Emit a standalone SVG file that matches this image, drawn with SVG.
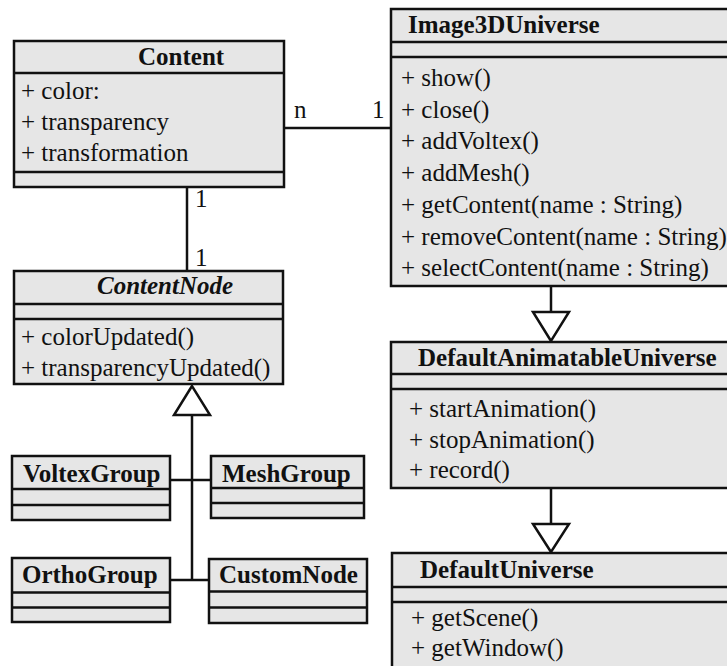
<svg xmlns="http://www.w3.org/2000/svg" width="727" height="666" viewBox="0 0 727 666">
  <style>
    .box { fill: #e6e6e6; stroke: #111; stroke-width: 2.5; }
    .div { stroke: #111; stroke-width: 2.5; }
    .edge { stroke: #111; stroke-width: 2.5; fill: none; }
    .head { fill: #fff; stroke: #111; stroke-width: 2.5; }
    text { font-family: "Liberation Serif", "Times New Roman", serif; font-size: 25px; fill: #111; }
    .title { font-weight: bold; }
    .abstract { font-weight: bold; font-style: italic; }
  </style>
  <rect width="727" height="666" fill="#fff"/>

  <!-- connectors -->
  <g id="connectors">
    <!-- association Content n..1 Image3DUniverse -->
    <line class="edge" x1="284" y1="128" x2="391" y2="128"/>
    <text x="294" y="118">n</text>
    <text x="372" y="118">1</text>
    <!-- Content 1..1 ContentNode -->
    <line class="edge" x1="187" y1="187" x2="187" y2="271"/>
    <text x="195" y="207">1</text>
    <text x="195" y="266">1</text>
    <!-- generalization tree to ContentNode -->
    <polyline class="edge" points="170,480 211,480"/>
    <polyline class="edge" points="170,580 209,580"/>
    <line class="edge" x1="192" y1="415" x2="192" y2="580"/>
    <polygon class="head" points="192,386 174,415 210,415"/>
    <!-- DefaultAnimatableUniverse extends Image3DUniverse -->
    <line class="edge" x1="551" y1="286" x2="551" y2="312"/>
    <polygon class="head" points="551,341 533,312 569,312"/>
    <!-- DefaultUniverse extends DefaultAnimatableUniverse -->
    <line class="edge" x1="551" y1="488" x2="551" y2="524"/>
    <polygon class="head" points="551,552 533,524 569,524"/>
  </g>

  <g id="Content">
    <rect class="box" x="14" y="41" width="270" height="146"/>
    <line class="div" x1="14" y1="73" x2="284" y2="73"/>
    <line class="div" x1="14" y1="172" x2="284" y2="172"/>
    <text class="title" x="138" y="65">Content</text>
    <text x="21" y="99">+ color:</text>
    <text x="21" y="130">+ transparency</text>
    <text x="21" y="161">+ transformation</text>
  </g>

  <g id="ContentNode">
    <rect class="box" x="14" y="271" width="269" height="113"/>
    <line class="div" x1="14" y1="304" x2="283" y2="304"/>
    <line class="div" x1="14" y1="319" x2="283" y2="319"/>
    <text class="abstract" x="97" y="294">ContentNode</text>
    <text x="21" y="345">+ colorUpdated()</text>
    <text x="21" y="376">+ transparencyUpdated()</text>
  </g>

  <g id="VoltexGroup">
    <rect class="box" x="12" y="456" width="158" height="64"/>
    <line class="div" x1="12" y1="489" x2="170" y2="489"/>
    <line class="div" x1="12" y1="505" x2="170" y2="505"/>
    <text class="title" x="23" y="482">VoltexGroup</text>
  </g>

  <g id="MeshGroup">
    <rect class="box" x="211" y="456" width="153" height="62"/>
    <line class="div" x1="211" y1="488" x2="364" y2="488"/>
    <line class="div" x1="211" y1="503" x2="364" y2="503"/>
    <text class="title" x="222" y="482">MeshGroup</text>
  </g>

  <g id="OrthoGroup">
    <rect class="box" x="12" y="558" width="158" height="64"/>
    <line class="div" x1="12" y1="592.5" x2="170" y2="592.5"/>
    <line class="div" x1="12" y1="607.5" x2="170" y2="607.5"/>
    <text class="title" x="22" y="583">OrthoGroup</text>
  </g>

  <g id="CustomNode">
    <rect class="box" x="209" y="559" width="158" height="64"/>
    <line class="div" x1="209" y1="591.5" x2="367" y2="591.5"/>
    <line class="div" x1="209" y1="607.5" x2="367" y2="607.5"/>
    <text class="title" x="219" y="583">CustomNode</text>
  </g>

  <g id="Image3DUniverse">
    <rect class="box" x="391" y="9" width="360" height="277"/>
    <line class="div" x1="391" y1="42" x2="751" y2="42"/>
    <line class="div" x1="391" y1="57" x2="751" y2="57"/>
    <text class="title" x="408" y="33">Image3DUniverse</text>
    <text x="401" y="86">+ show()</text>
    <text x="401" y="117.7">+ close()</text>
    <text x="401" y="149.4">+ addVoltex()</text>
    <text x="401" y="181.1">+ addMesh()</text>
    <text x="401" y="212.8">+ getContent(name : String)</text>
    <text x="401" y="244.5">+ removeContent(name : String)</text>
    <text x="401" y="276.2">+ selectContent(name : String)</text>
  </g>

  <g id="DefaultAnimatableUniverse">
    <rect class="box" x="391" y="342" width="360" height="146"/>
    <line class="div" x1="391" y1="374" x2="751" y2="374"/>
    <line class="div" x1="391" y1="389" x2="751" y2="389"/>
    <text class="title" x="418" y="366">DefaultAnimatableUniverse</text>
    <text x="409" y="417">+ startAnimation()</text>
    <text x="409" y="447.5">+ stopAnimation()</text>
    <text x="409" y="478">+ record()</text>
  </g>

  <g id="DefaultUniverse">
    <rect class="box" x="392" y="553" width="360" height="130"/>
    <line class="div" x1="392" y1="587" x2="752" y2="587"/>
    <line class="div" x1="392" y1="602" x2="752" y2="602"/>
    <text class="title" x="420" y="578">DefaultUniverse</text>
    <text x="411" y="626">+ getScene()</text>
    <text x="411" y="656">+ getWindow()</text>
  </g>
</svg>
